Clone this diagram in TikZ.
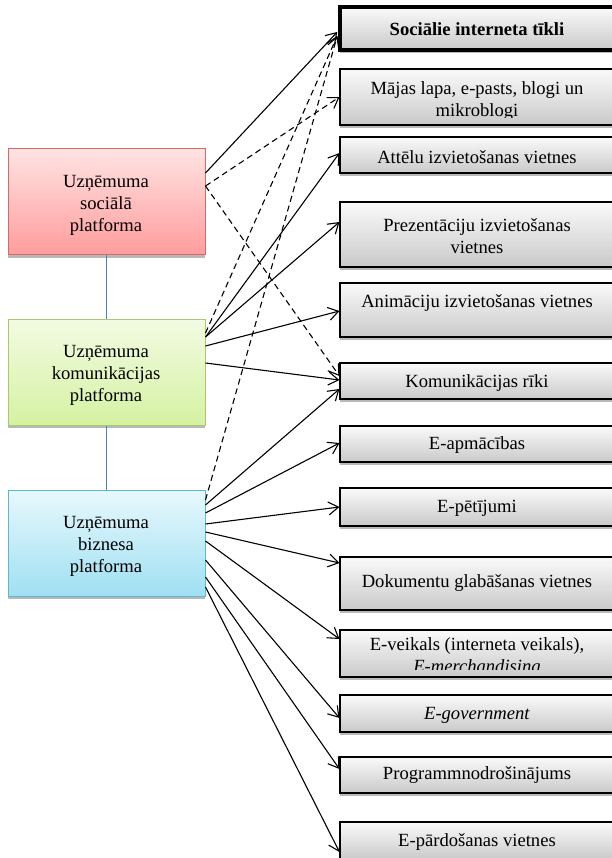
\documentclass[tikz,border=0pt]{standalone}
\usepackage{fontspec}
\setmainfont{Liberation Serif}
\usetikzlibrary{arrows.meta,calc,shadows}
\definecolor{redtop}{HTML}{FFE3E3}
\definecolor{redbot}{HTML}{FF9C9C}
\definecolor{redborder}{HTML}{D46A6A}
\definecolor{greentop}{HTML}{F3FBE3}
\definecolor{greenbot}{HTML}{D5F2A2}
\definecolor{greenborder}{HTML}{A9C96E}
\definecolor{bluetop}{HTML}{E8F8FD}
\definecolor{bluebot}{HTML}{9FE0F2}
\definecolor{blueborder}{HTML}{5DB7CF}
\definecolor{linkblue}{HTML}{4F81BD}
\begin{document}
\begin{tikzpicture}[x=1pt,y=-1pt,
  every node/.style={font=\fontsize{18.6pt}{22pt}\selectfont},
  boxshadow/.style={drop shadow={opacity=1,fill=gray!55,shadow xshift=0pt,shadow yshift=-3pt}},
  rbox/.style={draw=black,line width=1.1pt,top color=gray!4,bottom color=gray!42,
    minimum width=274pt,inner sep=0pt,boxshadow},
  lbox/.style={line width=1pt,minimum width=197pt,minimum height=106pt,inner sep=0pt,boxshadow},
  txt/.style={inner sep=0pt,align=center},
  link/.style={draw=linkblue,line width=1pt},
  arr/.style={line width=1.1pt,-{Straight Barb[length=10pt,width=13pt]}},
  dsh/.style={arr,dash pattern=on 6pt off 4pt},
]
\clip (0,0) rectangle (612,858);
\useasboundingbox (0,0) rectangle (612,858);

% left platform boxes
\node[lbox,draw=redborder,top color=redtop,bottom color=redbot] (red) at (106.5,202) {};
\node[lbox,draw=greenborder,top color=greentop,bottom color=greenbot] (green) at (106.5,372) {};
\node[lbox,draw=blueborder,top color=bluetop,bottom color=bluebot] (blue) at (106.5,543) {};
\node[txt] (redtxt) at (106,205) {Uzņēmuma\\sociālā\\platforma};
\node[txt] (greentxt) at (106,375) {Uzņēmuma\\komunikācijas\\platforma};
\node[txt] (bluetxt) at (106,546) {Uzņēmuma\\biznesa\\platforma};
\draw[link] (red) -- (green);
\draw[link] (green) -- (blue);

% right boxes
\node[rbox,line width=3.5pt,minimum height=43pt] (b1) at (477,28.5) {};
\node[rbox,minimum height=56pt] (b2) at (477,97) {};
\node[rbox,minimum height=36pt] (b3) at (477,155) {};
\node[rbox,minimum height=65pt] (b4) at (477,234.5) {};
\node[rbox,minimum height=54pt] (b5) at (477,310) {};
\node[rbox,minimum height=36pt] (b6) at (477,381) {};
\node[rbox,minimum height=36pt] (b7) at (477,444) {};
\node[rbox,minimum height=38pt] (b8) at (477,507) {};
\node[rbox,minimum height=53pt] (b9) at (477,583.5) {};
\node[rbox,minimum height=47pt] (b10) at (477,653.5) {};
\node[rbox,minimum height=37pt] (b11) at (477,713.5) {};
\node[rbox,minimum height=36pt] (b12) at (477,775) {};
\node[rbox,minimum height=38pt] (b13) at (477,841) {};

% texts
\node[txt,font=\fontsize{18.6pt}{22pt}\selectfont\bfseries] (t1) at (477,29) {Sociālie interneta tīkli};
\begin{scope}
  \clip (b2.north west) rectangle ($(b2.south east)+(0,-8)$);
  \node[txt] (t2) at (477,101.5) {Mājas lapa, e-pasts, blogi un\\mikroblogi};
\end{scope}
\node[txt] (t3) at (477,157) {Attēlu izvietošanas vietnes};
\node[txt] (t4) at (477,236) {Prezentāciju izvietošanas\\vietnes};
\node[txt] (t5) at (477,303) {Animāciju izvietošanas vietnes};
\node[txt] (t6) at (477,383) {Komunikācijas rīki};
\node[txt] (t7) at (477,445) {E-apmācības};
\node[txt] (t8) at (477,508) {E-pētījumi};
\node[txt] (t9) at (477,583) {Dokumentu glabāšanas vietnes};
\begin{scope}
  \clip (b10.north west) rectangle ($(b10.south east)+(0,-8)$);
  \node[txt] (t10) at (477,657.5) {E-veikals (interneta veikals),\\\textit{E-merchandising}};
\end{scope}
\node[txt] (t11) at (477,715) {\textit{E-government}};
\node[txt] (t12) at (477,775) {Programmnodrošinājums};
\node[txt] (t13) at (477,842) {E-pārdošanas vietnes};

% connectors from social platform
\draw[arr] ($(red.east)+(0,-29)$) -- ($(b1.west)+(-1,3.5)$);
\draw[dsh] ($(red.east)+(0,-16)$) -- ($(b2.west)+(0,0)$);
\draw[dsh] ($(red.east)+(0,-16)$) -- ($(b6.west)+(0,-5)$);

% connectors from communication platform
\draw[dsh] ($(green.east)+(0,-39)$) -- ($(b1.west)+(-1,7.5)$);
\draw[arr] ($(green.east)+(0,-35)$) -- ($(b3.west)+(0,-2)$);
\draw[arr] ($(green.east)+(0,-35)$) -- ($(b4.west)+(0,-12.5)$);
\draw[arr] ($(green.east)+(0,-26)$) -- ($(b5.west)+(0,1)$);
\draw[arr] ($(green.east)+(0,-9)$) -- ($(b6.west)+(0,-1)$);

% connectors from business platform
\draw[dsh] ($(blue.east)+(0,-43)$) -- ($(b1.west)+(-1,7.5)$);
\draw[arr] ($(blue.east)+(0,-38)$) -- ($(b6.west)+(0,8)$);
\draw[arr] ($(blue.east)+(0,-30)$) -- ($(b7.west)+(0,-1)$);
\draw[arr] ($(blue.east)+(0,-19)$) -- ($(b8.west)+(0,0)$);
\draw[arr] ($(blue.east)+(0,-11)$) -- ($(b9.west)+(0,-20.5)$);
\draw[arr] ($(blue.east)+(0,-2)$) -- ($(b10.west)+(0,-14.5)$);
\draw[arr] ($(blue.east)+(0,17)$) -- ($(b11.west)+(0,4.5)$);
\draw[arr] ($(blue.east)+(0,34)$) -- ($(b12.west)+(0,-6)$);
\draw[arr] ($(blue.east)+(0,44)$) -- ($(b13.west)+(0,11)$);
\end{tikzpicture}
\end{document}
